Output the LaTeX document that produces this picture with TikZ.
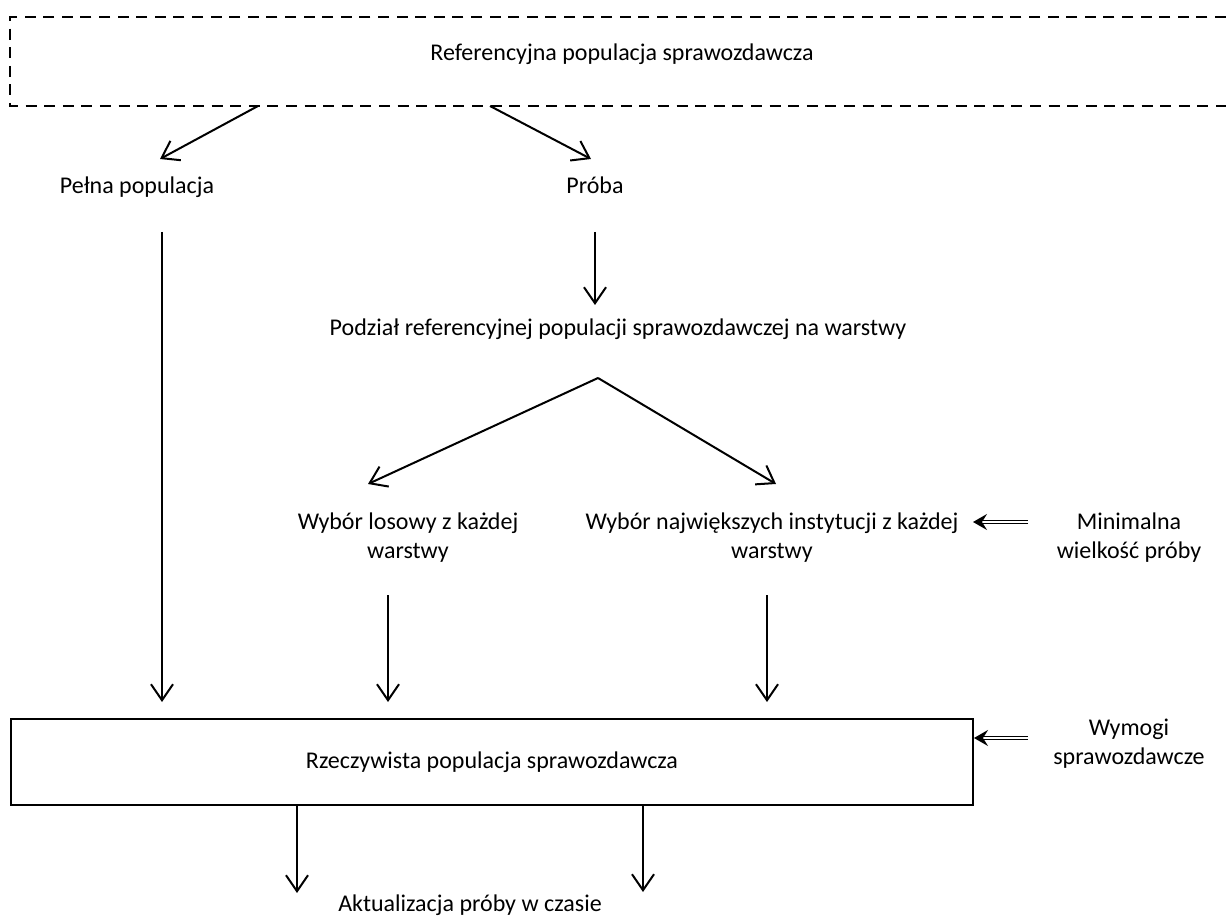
\documentclass[tikz,border=0pt]{standalone}
\usepackage{fontspec}
\setmainfont{Carlito}
\usetikzlibrary{arrows.meta}

\begin{document}
\begin{tikzpicture}[x=0.5pt, y=-0.5pt,
		every node/.style={font=\fontsize{12pt}{14.5pt}\selectfont, align=center},
		oneline/.style={text height=8.5pt, text depth=2.5pt},
		arr/.style={line width=1pt, -{Straight Barb[length=8pt, width=11pt, line width=1pt]}},
		dblarr/.style={double, double distance=0.8pt, line width=0.6pt, -{Stealth[length=7pt, width=8pt, inset=2.5pt]}}]
	\useasboundingbox (0,0) rectangle (1226,919);

	% Referencyjna populacja
	\draw[line width=1.4pt, dash pattern=on 5.5pt off 3.8pt] (1226,17) -- (10,17) -- (10,106) -- (1226,106);
	\node[oneline] (ref) at (622,55) {Referencyjna populacja sprawozdawcza};
	\coordinate (refl) at (258,106);
	\coordinate (refr) at (490,106);

	% Pelna populacja / Proba
	\node[oneline] (pelna) at (137,188) {Pełna populacja};
	\node[oneline] (proba) at (595,188) {Próba};
	\draw[arr] (refl) -- (160,159);
	\draw[arr] (refr) -- (591,159);

	% Podzial na warstwy
	\node[oneline] (podzial) at (618,330) {Podział referencyjnej populacji sprawozdawczej na warstwy};
	\coordinate (probab) at (595,232);
	\draw[arr] (probab) -- (595,305);
	\coordinate (podzialb) at (598,378);
	\draw[arr] (podzialb) -- (368,484);
	\draw[arr] (podzialb) -- (776,484);

	% Wybor
	\node (losowy) at (408,538) {Wybór losowy z każdej\\warstwy};
	\node (najw) at (772,538) {Wybór największych instytucji z każdej\\warstwy};
	\node (minim) at (1129,538) {Minimalna\\wielkość próby};
	\draw[dblarr] (1028,522) -- (973,522);

	% Rzeczywista populacja
	\draw[line width=1.4pt] (11,719) rectangle (973,805);
	\node[oneline] (rzecz) at (492,762) {Rzeczywista populacja sprawozdawcza};
	\node (wymogi) at (1129,744) {Wymogi\\sprawozdawcze};
	\draw[dblarr] (1028,738) -- (974,738);

	\coordinate (pelnab) at (162,232);
	\coordinate (losowyb) at (388,595);
	\coordinate (najwb) at (767,595);
	\draw[arr] (pelnab) -- (162,702);
	\draw[arr] (losowyb) -- (388,702);
	\draw[arr] (najwb) -- (767,702);

	% Aktualizacja
	\node[oneline] (aktual) at (470,905) {Aktualizacja próby w czasie};
	\draw[arr] (297,805) -- (297,893);
	\draw[arr] (643,805) -- (643,892);
\end{tikzpicture}
\end{document}
